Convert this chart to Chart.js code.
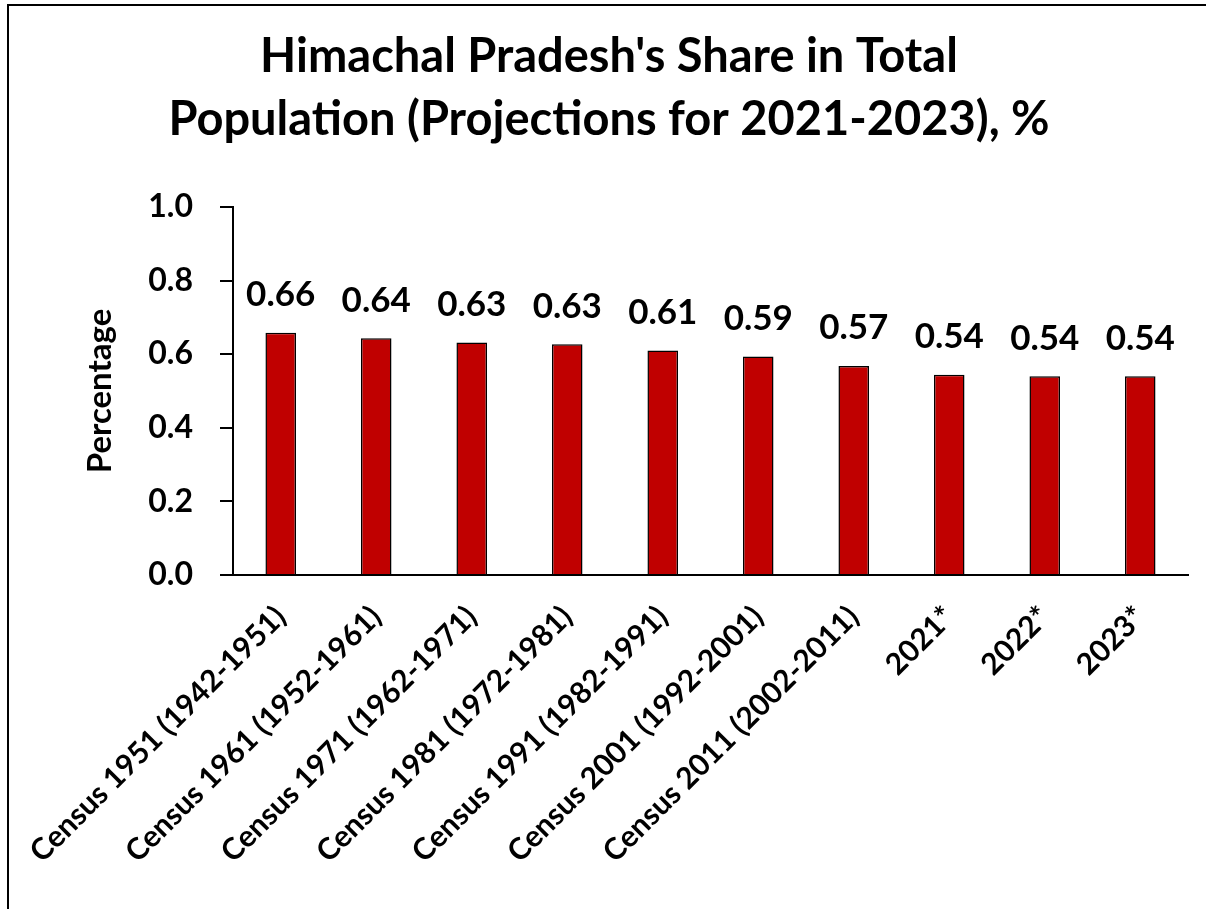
<!DOCTYPE html>
<html>
<head>
<meta charset="utf-8">
<script src="https://cdn.jsdelivr.net/npm/chart.js@4/dist/chart.umd.min.js"></script>
<style>
  html, body { margin: 0; padding: 0; background: #fff; }
  #wrap { width: 1206px; height: 909px; }
</style>
</head>
<body>
<div id="wrap"><canvas id="chart"></canvas></div>
<script>
const categories = [
  'Census 1951 (1942-1951)', 'Census 1961 (1952-1961)', 'Census 1971 (1962-1971)',
  'Census 1981 (1972-1981)', 'Census 1991 (1982-1991)', 'Census 2001 (1992-2001)',
  'Census 2011 (2002-2011)', '2021*', '2022*', '2023*'
]
const shareValues = [0.658, 0.643, 0.632, 0.627, 0.610, 0.594, 0.568, 0.544, 0.540, 0.540]
const shareLabels = ['0.66', '0.64', '0.63', '0.63', '0.61', '0.59', '0.57', '0.54', '0.54', '0.54']
const titleLines = ["Himachal Pradesh's Share in Total", 'Population (Projections for 2021-2023), %']

const FONT = 'Lato, "Open Sans", sans-serif'

// white background plus the frame lines (top and left only are visible)
const framePlugin = {
  id: 'frame',
  beforeDraw(chart) {
    const ctx = chart.ctx
    ctx.save()
    ctx.fillStyle = '#fff'
    ctx.fillRect(0, 0, chart.width, chart.height)
    ctx.strokeStyle = '#000'
    ctx.lineWidth = 2
    ctx.beginPath()
    ctx.moveTo(8, chart.height)
    ctx.lineTo(8, 5)
    ctx.lineTo(chart.width, 5)
    ctx.stroke()
    ctx.restore()
  }
}

// value labels above each bar
const valueLabels = {
  id: 'valueLabels',
  afterDatasetsDraw(chart) {
    const ctx = chart.ctx
    const meta = chart.getDatasetMeta(0)
    ctx.save()
    ctx.fillStyle = '#000'
    ctx.font = `bold 35px ${FONT}`
    ctx.textAlign = 'center'
    ctx.textBaseline = 'middle'
    meta.data.forEach((bar, i) => {
      ctx.fillText(shareLabels[i], bar.x, bar.y - 38)
    })
    ctx.restore()
  }
}

new Chart(document.getElementById('chart'), {
  type: 'bar',
  data: {
    labels: categories,
    datasets: [{
      data: shareValues,
      backgroundColor: '#C00000',
      borderColor: '#000',
      borderWidth: 1.5,
      barPercentage: 0.32,
      categoryPercentage: 1.0
    }]
  },
  options: {
    responsive: true,
    maintainAspectRatio: false,
    animation: false,
    layout: { padding: { left: 30, right: 18, top: 0, bottom: 0 } },
    plugins: {
      legend: { display: false },
      tooltip: { enabled: false },
      title: {
        display: true,
        text: titleLines,
        color: '#000',
        font: { family: FONT, size: 47, weight: 'bold', lineHeight: 1.34 },
        padding: { top: 25, bottom: 56 }
      }
    },
    scales: {
      x: {
        border: { display: true, color: '#000', width: 2 },
        grid: { display: false, drawTicks: false },
        ticks: {
          color: '#000',
          font: { family: FONT, size: 30, weight: 'bold' },
          maxRotation: 45,
          minRotation: 45,
          autoSkip: false,
          padding: 24
        },
        afterFit(scale) { scale.height = 334 }
      },
      y: {
        min: 0,
        max: 1,
        border: { display: true, color: '#000', width: 2 },
        grid: { drawOnChartArea: false, drawTicks: true, tickLength: 13, color: '#000', lineWidth: 2 },
        ticks: {
          stepSize: 0.2,
          color: '#000',
          padding: 27,
          font: { family: FONT, size: 32, weight: 'bold' },
          callback: (v) => v.toFixed(1)
        },
        title: {
          display: true,
          text: 'Percentage',
          color: '#000',
          font: { family: FONT, size: 33, weight: 'bold' },
          padding: { top: 48, bottom: 0 }
        },
        afterFit(scale) { scale.width = 200 }
      }
    }
  },
  plugins: [framePlugin, valueLabels]
})
</script>
</body>
</html>
